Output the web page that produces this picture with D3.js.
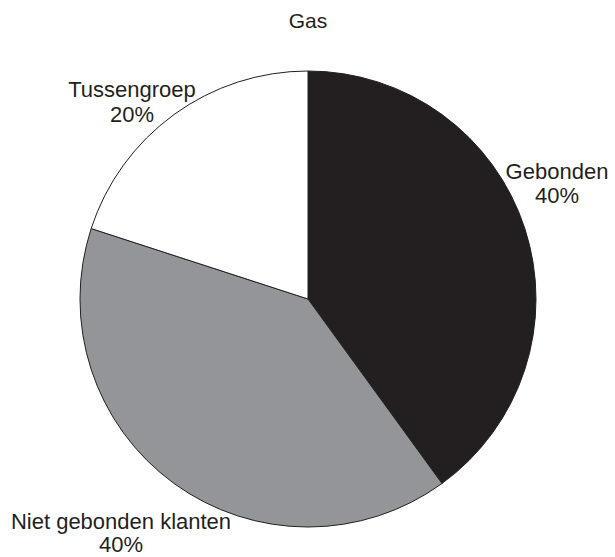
<!DOCTYPE html>
<html><head><meta charset="utf-8">
<script src="https://cdn.jsdelivr.net/npm/d3@7/dist/d3.min.js"></script>
<style>body{margin:0;background:#fff}text{font-family:"Liberation Sans",Arial,sans-serif;fill:#231f20}</style>
</head><body>
<svg id="c" width="615" height="557"></svg>
<script>
const title = "Gas";
const categories = ["Gebonden", "Niet gebonden klanten", "Tussengroep"];
const values = [40, 40, 20];
const labels = ["40%", "40%", "20%"];
const colors = ["#231f20", "#939598", "#ffffff"];

const svg = d3.select("#c");
const cx = 308, cy = 299, r = 228;
const g = svg.append("g").attr("transform", `translate(${cx},${cy})`);
const pie = d3.pie().sort(null).value(d => d)(values);
const arc = d3.arc().innerRadius(0).outerRadius(r);
g.selectAll("path").data(pie).enter().append("path")
  .attr("d", arc).attr("fill", (d,i) => colors[i])
  .attr("stroke", "#231f20").attr("stroke-width", 1);

svg.append("text").attr("x", 308).attr("y", 28).attr("text-anchor","middle")
  .attr("font-size", 21).text(title);

const labelPos = [[557,179,24],[121,529,23],[132,97,25]];
categories.forEach((c,i) => {
  const t = svg.append("text").attr("text-anchor","middle").attr("font-size",22);
  t.append("tspan").attr("x", labelPos[i][0]).attr("y", labelPos[i][1]).text(c);
  t.append("tspan").attr("x", labelPos[i][0]).attr("dy", labelPos[i][2]).text(labels[i]);
});
</script>
</body></html>
